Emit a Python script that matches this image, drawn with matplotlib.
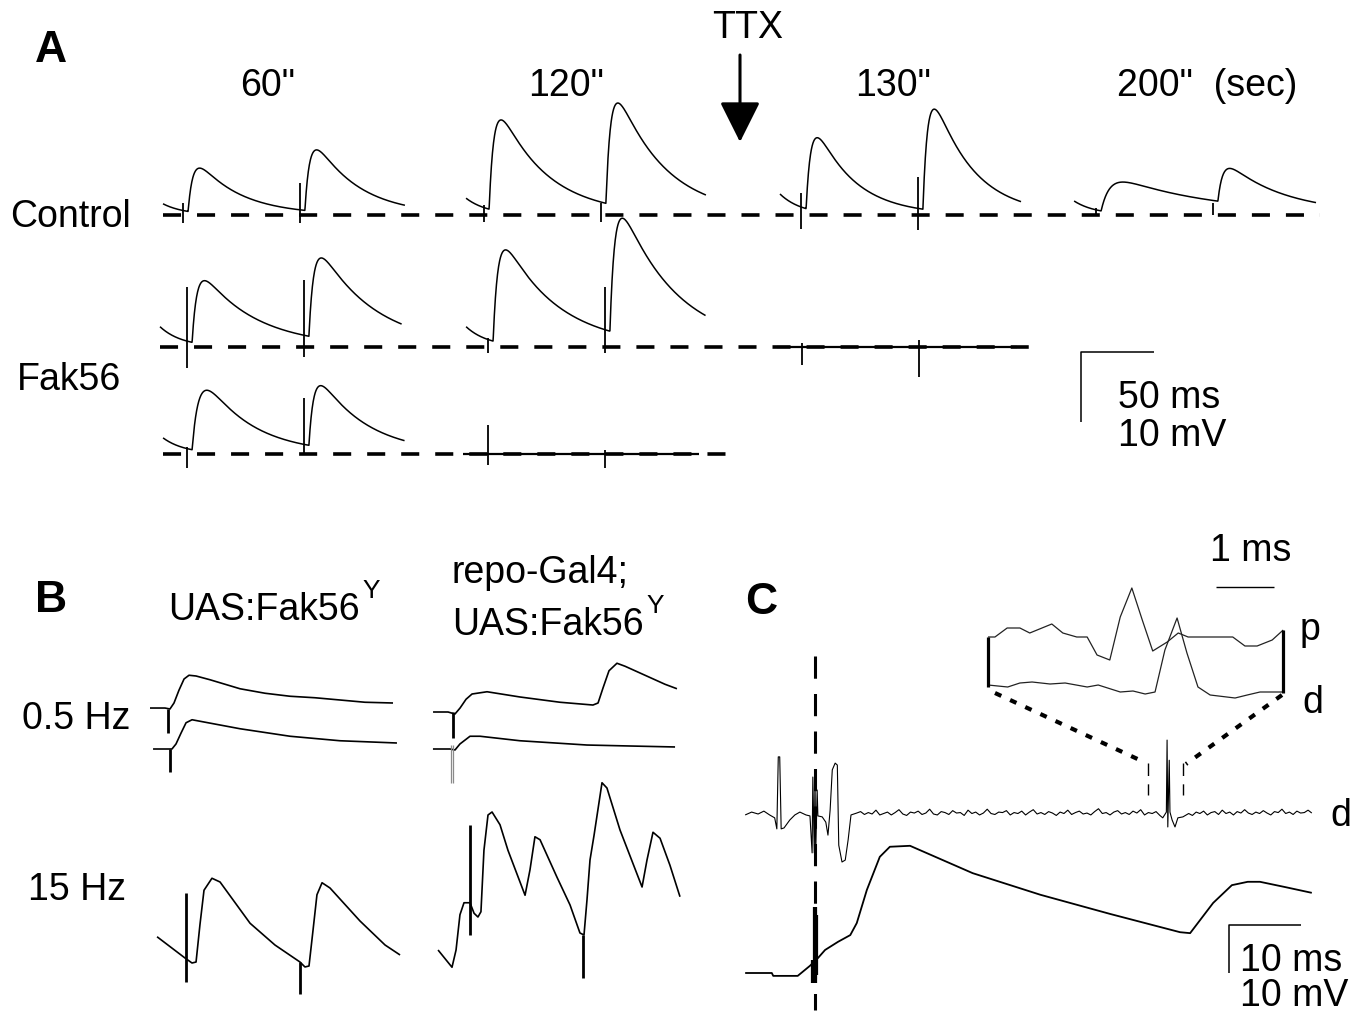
import numpy as np
import matplotlib
matplotlib.use("Agg")
import matplotlib.pyplot as plt
import matplotlib.transforms as mtransforms

plt.rcParams["font.family"] = ["Liberation Sans", "DejaVu Sans"]
plt.rcParams["lines.scale_dashes"] = False
plt.rcParams["lines.solid_capstyle"] = "butt"

# ================= Panel A : paired-pulse EPSPs (ms / mV) =================
a_col_labels = ['60"', '120"', '130"', '200"  (sec)']
a_row_labels = ["Control", "Fak56"]
a_sweeps = ["Ctl 60", "Ctl 120", "Ctl 130", "Ctl 200",
            "Fak56a 60", "Fak56a 120", "Fak56a 130", "Fak56b 60", "Fak56b 120"]
a_stim_ms = [0.0, 80.0]
a_t_start = [-13.7, -12.3, -14.4, -15.0, -18.5, -15.0, -17.0, -16.4, -17.0]
a_t_end = [152.0, 152.0, 150.7, 150.7, 147.0, 149.0, 147.0, 149.0, 144.5]
a_pre_mv = [1.6, 2.4, 3.0, 2.0, 2.9, 2.9, 0.0, 2.3, 0.0]
a_amp1_mv = [6.4, 13.1, 10.5, 4.5, 9.1, 13.4, 0.0, 8.8, 0.0]
a_amp2_mv = [8.8, 14.7, 14.5, 4.9, 11.5, 16.6, 0.0, 8.8, 0.0]
a_rise1_ms = [3.3, 3.3, 3.3, 6.0, 3.3, 3.3, 3.3, 4.5, 3.3]
a_decay1_ms = [30.0, 33.0, 27.0, 70.0, 38.0, 38.0, 33.0, 33.0, 33.0]
a_rise2_ms = [3.3, 3.3, 3.3, 3.3, 3.3, 3.3, 3.3, 3.3, 3.3]
a_decay2_ms = [30.0, 33.0, 27.0, 35.0, 38.0, 38.0, 33.0, 33.0, 33.0]
a_latency_ms = 3.5
a_pre_tau_ms = 15.0
a_art1_top = [1.7, 1.4, 3.1, 1.0, 8.6, 1.3, 0.6, 1.0, 4.1]
a_art1_bot = [-1.1, -1.0, -2.0, -0.1, -3.0, -0.9, -2.6, -2.0, -1.6]
a_art2_top = [4.6, 1.7, 5.4, 1.7, 9.6, 8.6, 1.0, 8.0, 0.6]
a_art2_bot = [-1.1, -1.0, -2.1, 0.0, -1.4, -0.9, -4.3, 0.1, -2.0]
a_scale_ms, a_scale_mv = 50, 10

# ================= Panel B (ms / mV, relative to stimulus) =================
b_traces = ["UAS 0.5Hz a", "UAS 0.5Hz b", "repo 0.5Hz a", "repo 0.5Hz b", "UAS 15Hz", "repo 15Hz"]
b1_t = [-12, -2, 1.3, 4, 7.3, 10.7, 14, 18.7, 28, 48, 64.7, 81.3, 98, 114.7, 131.3, 150]
b1_v = [0.13, 0.13, 0, 0.8, 2.5, 4.0, 4.5, 4.4, 3.9, 2.7, 2.1, 1.7, 1.5, 1.2, 0.9, 0.8]
b2_t = [-11.3, -2.7, 1.3, 4, 7.3, 10.7, 14.7, 20, 46.7, 80, 113.3, 151.3]
b2_v = [0, 0, 0, 0.67, 2.1, 3.5, 3.9, 3.7, 2.7, 1.7, 1.1, 0.8]
b3_t = [-13.3, -3.3, 1.3, 4.7, 8.7, 12.7, 22.7, 44.7, 71.3, 93.3, 96.7, 100, 104,
        109.3, 114.7, 128, 141.3, 149.3]
b3_v = [0, 0, -0.27, 0.53, 1.7, 2.4, 2.7, 2.0, 1.3, 0.93, 1.2, 3.2, 5.5, 6.5, 6.1, 4.9, 3.7, 3.1]
b4_t = [-12.7, -1.3, 2, 5.3, 12, 18.7, 45.3, 90, 118.7, 148.7]
b4_v = [0, 0, -0.13, 0.67, 1.7, 1.7, 1.1, 0.53, 0.4, 0.27]
b5_t = [-19.3, -0.7, 4, 6.7, 9.3, 12, 17.3, 22.7, 42.7, 59.3, 76, 79.3, 82, 84.7, 87.3,
        90.7, 96, 116, 132.7, 142.7]
b5_v = [3.1, 0.27, -0.4, -0.27, 4.7, 9.3, 10.9, 10.4, 4.9, 2.0, -0.27, -0.93, -0.8, 4.0,
        8.7, 10.3, 9.6, 5.2, 2.0, 0.67]
b6_t = [-21.3, -12, -9.3, -6.7, -4, 0, 2.7, 5.3, 7.3, 9.3, 12, 14.7, 20, 25.3, 36.7, 40,
        43.3, 46.7, 58, 66.7, 73.3, 76, 78, 80, 82.7, 88, 91.3, 100, 114.7, 118, 122,
        126.7, 133.3, 140]
b6_v = [-2, -4.3, -2, 2.7, 4.3, 4.3, 2.9, 2.4, 3.1, 11.3, 16, 16.4, 14.7, 11.3, 5.3, 8.7,
        13.1, 12.7, 7.7, 4.0, 0.27, 0, 4.7, 10, 13.3, 20.3, 19.6, 14, 6.4, 10, 13.7,
        12.9, 9.3, 5.1]
# stimulus artefacts: (trace index, time ms, top mV, bottom mV)
b_art_trace = [0, 1, 2, 4, 4, 5, 5]
b_art_t = [0, 0, 0, 0, 76, 0, 75.3]
b_art_top = [0, 0, 0, 8.9, -0.27, 14.7, 0]
b_art_bot = [-3.2, -3.1, -3.5, -2.9, -4.5, 0, -5.7]
b4_art_t = [-0.7, 0.7]
b4_art_top, b4_art_bot = 0.5, -4.5

# ================= Panel C =================
# intracellular EPSP (ms / mV)
c_in_t = [-9.7, -6, -5.8, -2.4, -0.7, 0.4, 1.4, 3.2, 4.9, 5.8, 7.2, 9.0, 10.4, 13.2, 21.9,
          31.3, 41, 50.7, 52.1, 55.3, 57.9, 60.1, 61.8, 65.3, 69]
c_in_v = [0, 0, -0.6, -0.6, 1.5, 3.1, 4.8, 6.5, 7.9, 10.4, 17.3, 24.2, 26.3, 26.5, 20.8,
          16.3, 12.3, 8.5, 8.3, 14.6, 18.3, 19, 19, 17.9, 16.7]
c_in_art_t = [-0.4, -0.1, 0.1, 0.3]
c_in_art_top = [2.7, 13.75, 13.75, 12.0]
c_in_art_bot = [-2.1, -2.1, -2.1, -0.4]
# extracellular distal recording (ms / a.u.)
c_d_t_pre = [-9.7, -8.8, -7.9, -7.1, -6.3, -5.6, -5.3, -5.1, -4.9, -4.7, -4.3, -3.5, -2.8,
             -2.1, -1.25, -0.7, -0.4, -0.3, -0.1, 0.0, 0.1, 0.3, 0.4, 1.0, 1.5, 1.8, 2.1,
             2.4, 2.8, 3.1, 3.3, 3.75, 4.2, 4.6, 5.0]
c_d_v_pre = [-0.2, 0.4, 0.0, 0.6, -0.2, -0.8, -3.1, 11.9, 11.9, -3.1, -2.9, -1.25, -0.2,
             0.4, -0.2, -0.4, -8.1, 7.7, -8.1, 7.7, -8.1, 5.0, -0.4, -0.6, -1.7, -4.4, 0.8,
             9.2, 10.6, 10.2, -6.5, -10.0, -9.6, -5.4, -0.2]
c_d_noise1 = [0.2, 0.5, -0.1, 0.3, 0.0, 0.8, -0.2, 0.1, 0.4, -0.2,
              0.3, 0.9, 0.0, -0.3, 0.4, 0.2, 0.6, -0.1, 0.2, 1.0,
              0.0, -0.2, 0.5, 0.3, -0.1, 0.7, 0.2, 0.3, -0.3, 0.8,
              0.1, 0.4, -0.2, 0.2, 1.0, 0.1, -0.1, 0.4, 0.3, 0.7,
              -0.2, 0.3, 0.1, 0.6, -0.2, 0.4, 0.9, 0.0, 0.3, -0.1,
              0.5, 0.2, -0.3, 0.4, 0.1, 0.8, -0.1, 0.3, 0.6, 0.0,
              0.2, -0.2, 0.5, 1.1, 0.1, 0.3, -0.2, 0.4, 0.7, 0.0,
              0.3, -0.1, 0.6, 0.2, 0.9, -0.2, 0.3, 0.1, 0.5, -0.3]
c_d_noise1_span = (5.8, 47.9)
c_d_t_spk = [48.3, 48.8, 48.9, 49.0, 49.2, 49.3, 49.6, 50.0, 50.4, 51.1]
c_d_v_spk = [-0.8, 0.4, 15.4, -2.7, 11.2, 0.4, -1.25, -2.7, -0.8, -0.6]
c_d_noise2 = [0.1, -0.3, 0.4, 0.1, 0.6, -0.2, 0.3, 0.5, -0.1, 0.8,
              0.1, 0.4, -0.2, 0.5, 0.2, 0.9, 0.2, -0.1, 0.4, 0.1,
              0.7, 0.2, -0.2, 0.5, 0.3, 1.0, 0.1, 0.4, -0.1, 0.6,
              0.2, 0.3, 0.8, 0.2]
c_d_noise2_span = (51.9, 69.0)
c_window_t = [46.2, 51.1]
c_window_v = (10.6, 4.0)
# inset: proximal (p) and distal (d) spikes (ms / a.u.)
c_p_t = [0, 0.12, 0.33, 0.55, 0.72, 1.10, 1.29, 1.53, 1.71, 1.88, 2.10, 2.28, 2.48, 2.66,
         2.84, 3.09, 3.28, 3.45, 4.22, 4.43, 4.64, 4.90, 5.09]
c_p_v = [0, 0, 0.9, 0.9, 0.4, 1.3, 0.4, 0, 0, -1.8, -2.3, 2.0, 4.9, 1.7, -1.4, -0.5, 0.4,
         0, 0, -0.9, -0.9, -0.3, 0.7]
c_di_t = [0, 0.34, 0.55, 0.76, 1.07, 1.33, 1.71, 1.90, 2.28, 2.50, 2.71, 2.88, 3.05, 3.26,
          3.43, 3.62, 3.83, 4.26, 4.47, 4.69, 5.09]
c_di_v = [0.2, 0, 0.4, 0.5, 0.3, 0.4, 0, 0.2, -0.5, -0.4, -0.7, -0.5, 3.7, 6.9, 3.4, 0,
          -0.8, -1.1, -0.8, -0.5, -0.5]
c_scale_ms, c_scale_mv, c_inset_scale_ms = 10, 10, 1

# ================= figure & layout =================
W, H = 1366, 1015
fig = plt.figure(figsize=(W / 100, H / 100), dpi=100)
ax = fig.add_axes([0, 0, 1, 1])
ax.set_xlim(0, W)
ax.set_ylim(H, 0)
ax.axis("off")


def frame(x0, y0, sx, sy):
    """Transform from (ms, mV) of one sweep to the page."""
    return mtransforms.Affine2D().scale(sx, -sy).translate(x0, y0) + ax.transData


K = "black"
LW_TR = 1.1

# ---- panel A layout
A_SX, A_SY = 1.46, 7.0
a_x0 = [183, 484, 801, 1096, 187, 488, 802, 187, 488]
a_y0 = [215, 215, 215, 215, 347, 347, 347, 454, 454]
a_base_y = [215, 347, 454]
a_base_x = [(163, 1320), (160, 1044), (163, 730)]

for y, (x1, x2) in zip(a_base_y, a_base_x):
    ax.plot([x1, x2], [y, y], color=K, lw=2.6, linestyle=(0, (13.0, 11.5)),
            dash_capstyle="butt")


def epsp(t, onset, amp, tr, td):
    tau = np.clip(t - onset, 0, None)
    tp = np.log(td / tr) * tr * td / (td - tr)
    norm = np.exp(-tp / td) - np.exp(-tp / tr)
    return amp * (np.exp(-tau / td) - np.exp(-tau / tr)) / norm


for i in range(len(a_sweeps)):
    tr_ = frame(a_x0[i], a_y0[i], A_SX, A_SY)
    t = np.linspace(a_t_start[i], a_t_end[i], 900)
    v = (a_pre_mv[i] * np.exp(-(t - a_t_start[i]) / a_pre_tau_ms)
         + epsp(t, a_stim_ms[0] + a_latency_ms, a_amp1_mv[i], a_rise1_ms[i], a_decay1_ms[i])
         + epsp(t, a_stim_ms[1] + a_latency_ms, a_amp2_mv[i], a_rise2_ms[i], a_decay2_ms[i]))
    ax.plot(t, v, color=K, lw=LW_TR if a_amp1_mv[i] > 0 else 1.6, transform=tr_)
    ax.plot([a_stim_ms[0]] * 2, [a_art1_top[i], a_art1_bot[i]], color=K, lw=1.3, transform=tr_)
    ax.plot([a_stim_ms[1]] * 2, [a_art2_top[i], a_art2_bot[i]], color=K, lw=1.3, transform=tr_)

# scale bar A
tr_sb = frame(1081, 352, A_SX, A_SY)
ax.plot([a_scale_ms, 0, 0], [0, 0, -a_scale_mv], color=K, lw=1.1, transform=tr_sb)

# TTX arrow
ax.annotate("", xy=(740, 142), xytext=(740, 55),
            arrowprops=dict(arrowstyle="-|>,head_length=1.0,head_width=0.5",
                            mutation_scale=25, lw=2.2, color=K, shrinkA=0, shrinkB=0))

# ---- panel B layout
B_SX, B_SY = 1.5, 7.5
b_x0 = [168, 170, 453, 452, 186, 470]
b_y0 = [709, 749, 712, 749, 960, 935]
b_t = [b1_t, b2_t, b3_t, b4_t, b5_t, b6_t]
b_v = [b1_v, b2_v, b3_v, b4_v, b5_v, b6_v]
for i in range(len(b_traces)):
    tr_ = frame(b_x0[i], b_y0[i], B_SX, B_SY)
    ax.plot(b_t[i], b_v[i], color=K, lw=1.2, transform=tr_, solid_joinstyle="round")
for j in range(len(b_art_t)):
    i = b_art_trace[j]
    tr_ = frame(b_x0[i], b_y0[i], B_SX, B_SY)
    ax.plot([b_art_t[j]] * 2, [b_art_top[j], b_art_bot[j]], color=K, lw=2.0, transform=tr_)
tr_ = frame(b_x0[3], b_y0[3], B_SX, B_SY)
for tt in b4_art_t:
    ax.plot([tt, tt], [b4_art_top, b4_art_bot], color="#8a8a8a", lw=0.9, transform=tr_)

# ---- panel C layout
C_SX, C_SY = 7.2, 4.8
tr_in = frame(815, 973, C_SX, C_SY)
tr_d = frame(815, 814, C_SX, C_SY)
ax.plot(c_in_t, c_in_v, color=K, lw=1.3, transform=tr_in)
for tt, top, bot in zip(c_in_art_t, c_in_art_top, c_in_art_bot):
    ax.plot([tt, tt], [top, bot], color=K, lw=1.6, transform=tr_in)

n1t = np.linspace(c_d_noise1_span[0], c_d_noise1_span[1], len(c_d_noise1))
n2t = np.linspace(c_d_noise2_span[0], c_d_noise2_span[1], len(c_d_noise2))
d_t = list(c_d_t_pre) + list(n1t) + list(c_d_t_spk) + list(n2t)
d_v = list(c_d_v_pre) + list(c_d_noise1) + list(c_d_v_spk) + list(c_d_noise2)
ax.plot(d_t, d_v, color=K, lw=0.8, transform=tr_d)
for tt in c_window_t:
    ax.plot([tt, tt], list(c_window_v), color=K, lw=1.0, linestyle=(0, (9, 6)), transform=tr_d)

# stimulus marker (dashed vertical)
ax.plot([0, 0], [66.0, -7.7], color=K, lw=2.2, linestyle=(0, (16, 11)), transform=tr_in)

# inset
IN_SX, IN_SY = 58.0, 10.0
tr_p = frame(988, 637, IN_SX, IN_SY)
tr_di = frame(988, 687, IN_SX, IN_SY)
ax.plot(c_p_t, c_p_v, color="#222222", lw=0.9, transform=tr_p)
ax.plot(c_di_t, c_di_v, color="#222222", lw=0.9, transform=tr_di)
ax.plot([0, 0], [0, -5.0], color=K, lw=2.3, transform=tr_p)
ax.plot([c_p_t[-1]] * 2, [c_p_v[-1], -5.6], color=K, lw=2.3, transform=tr_p)
# zoom connectors
ax.plot([995, 1144], [693, 762], color=K, lw=3.0, linestyle=(0, (5, 7)))
ax.plot([1282, 1186], [695, 764], color=K, lw=3.0, linestyle=(0, (5, 7)))
# scale bars C
tr_sc = frame(1229, 925, C_SX, C_SY)
ax.plot([c_scale_ms, 0, 0], [0, 0, -c_scale_mv], color=K, lw=1.1, transform=tr_sc)
tr_si = frame(1216, 587, IN_SX, IN_SY)
ax.plot([0, c_inset_scale_ms], [0, 0], color=K, lw=1.0, transform=tr_si)

# ================= text =================
FS = 27
ax.text(35, 62, "A", fontsize=32, fontweight="bold", ha="left", va="baseline")
ax.text(35, 612, "B", fontsize=32, fontweight="bold", ha="left", va="baseline")
ax.text(745, 614, "C", fontsize=32, fontweight="bold", ha="left", va="baseline")
ax.text(748, 38, "TTX", fontsize=FS, ha="center", va="baseline")
for lab, x in zip(a_col_labels[:3], [268, 566, 893]):
    ax.text(x, 96, lab, fontsize=FS, ha="center", va="baseline")
ax.text(1117, 96, a_col_labels[3], fontsize=FS, ha="left", va="baseline")
ax.text(10, 227, a_row_labels[0], fontsize=FS, ha="left", va="baseline")
ax.text(17, 390, a_row_labels[1], fontsize=FS, ha="left", va="baseline")
ax.text(1118, 408, f"{a_scale_ms} ms", fontsize=FS, ha="left", va="baseline")
ax.text(1118, 446, f"{a_scale_mv} mV", fontsize=FS, ha="left", va="baseline")

ax.text(168, 620, "UAS:Fak56", fontsize=FS, ha="left", va="baseline")
ax.text(362, 598, "Y", fontsize=19, ha="left", va="baseline")
ax.text(452, 583, "repo-Gal4;", fontsize=FS, ha="left", va="baseline")
ax.text(452, 635, "UAS:Fak56", fontsize=FS, ha="left", va="baseline")
ax.text(646, 613, "Y", fontsize=19, ha="left", va="baseline")
ax.text(22, 729, "0.5 Hz", fontsize=FS, ha="left", va="baseline")
ax.text(28, 900, "15 Hz", fontsize=FS, ha="left", va="baseline")

ax.text(1210, 561, f"{c_inset_scale_ms} ms", fontsize=FS, ha="left", va="baseline")
ax.text(1300, 640, "p", fontsize=FS, ha="left", va="baseline")
ax.text(1302, 713, "d", fontsize=FS, ha="left", va="baseline")
ax.text(1330, 826, "d", fontsize=FS, ha="left", va="baseline")
ax.text(1240, 971, f"{c_scale_ms} ms", fontsize=FS, ha="left", va="baseline")
ax.text(1240, 1006, f"{c_scale_mv} mV", fontsize=FS, ha="left", va="baseline")

fig.savefig("out.png", dpi=100)
